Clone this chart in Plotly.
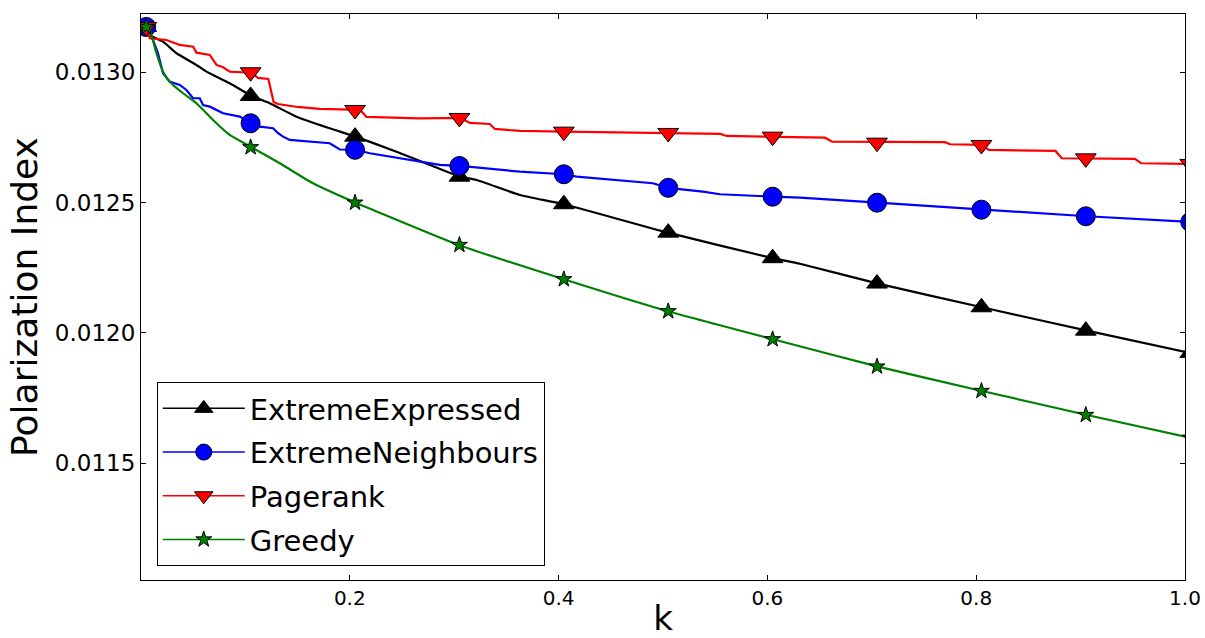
import plotly.graph_objects as go

# ---------------- data ----------------
MARK_K = [0.005, 0.105, 0.205, 0.305, 0.405, 0.505, 0.605, 0.705, 0.805, 0.905, 1.005]

EE_K = [0.005, 0.0084, 0.0211, 0.034, 0.0531, 0.0627, 0.085, 0.1058, 0.1234, 0.1489, 0.1808,
        0.2055, 0.2447, 0.2767, 0.3054, 0.3214, 0.3629, 0.405, 0.5047, 0.6053, 0.6311,
        0.7059, 0.8055, 0.9061, 1.005]
EE_P = [0.0131742, 0.0131435, 0.0131178, 0.0130733, 0.0130284, 0.0130027, 0.0129582, 0.0129094,
        0.0128814, 0.0128300, 0.0127855, 0.0127533, 0.0126957, 0.0126447, 0.0125998, 0.0125871,
        0.0125296, 0.0124940, 0.0123850, 0.0122870, 0.0122656, 0.0121896, 0.0120986, 0.0120089,
        0.0119236]
EE_M = [0.0131742, 0.0129094, 0.0127533, 0.0125998, 0.0124940, 0.0123850, 0.0122870, 0.0121896,
        0.0120986, 0.0120089, 0.0119236]

EN_K = [0.005, 0.0115, 0.0163, 0.0211, 0.0275, 0.0371, 0.0435, 0.0499, 0.0563, 0.0594, 0.0659,
        0.0723, 0.0786, 0.0946, 0.1058, 0.1138, 0.1265, 0.1313, 0.1361, 0.1425, 0.1808, 0.1904,
        0.2055, 0.2192, 0.267, 0.2863, 0.3054, 0.3629, 0.405, 0.4174, 0.4903, 0.5047, 0.5382,
        0.5545, 0.6053, 0.6311, 0.7059, 0.8055, 0.9061, 1.005]
EN_P = [0.0131742, 0.0131243, 0.0130733, 0.0129965, 0.0129643, 0.0129517, 0.0129325, 0.0129006,
        0.0129006, 0.0128749, 0.0128684, 0.0128557, 0.0128431, 0.0128300, 0.0128047, 0.0127916,
        0.0127855, 0.0127663, 0.0127533, 0.0127406, 0.0127279, 0.0127040, 0.0127030, 0.0126896,
        0.0126573, 0.0126447, 0.0126408, 0.0126190, 0.0126090, 0.0125998, 0.0125745, 0.0125570,
        0.0125422, 0.0125322, 0.0125230, 0.0125192, 0.0125000, 0.0124731, 0.0124478, 0.0124260]
EN_M = [0.0131742, 0.0128047, 0.0127030, 0.0126408, 0.0126090, 0.0125570, 0.0125230, 0.0125000,
        0.0124731, 0.0124478, 0.0124260]

PR_K = [0.005, 0.0084, 0.0244, 0.0371, 0.0499, 0.0531, 0.0659, 0.0723, 0.0786, 0.0850, 0.0962,
        0.1058, 0.112, 0.122, 0.127, 0.131, 0.150, 0.171, 0.210, 0.216, 0.267, 0.306, 0.315,
        0.334, 0.339, 0.363, 0.405, 0.490, 0.555, 0.561, 0.606, 0.655, 0.662, 0.770, 0.775,
        0.805, 0.812, 0.876, 0.882, 0.952, 0.958, 1.005]
PR_P = [0.0131742, 0.0131309, 0.0131243, 0.0131051, 0.0130986, 0.0130756, 0.0130668, 0.0130284,
        0.0130196, 0.0130027, 0.0130004, 0.0130004, 0.0129785, 0.0129747, 0.0128864, 0.0128787,
        0.0128672, 0.0128596, 0.0128557, 0.0128289, 0.0128231, 0.0128250, 0.0128058, 0.0128020,
        0.0127828, 0.0127751, 0.0127725, 0.0127686, 0.0127636, 0.0127560, 0.0127533, 0.0127494,
        0.0127341, 0.0127322, 0.0127241, 0.0127214, 0.0127022, 0.0126984, 0.0126704, 0.0126677,
        0.0126512, 0.0126485]
PR_M = [0.0131742, 0.0130004, 0.0128557, 0.0128250, 0.0127725, 0.0127675, 0.0127533, 0.0127302,
        0.0127214, 0.0126700, 0.0126485]

GR_K = [0.005, 0.0084, 0.0148, 0.0211, 0.0275, 0.0403, 0.0531, 0.069, 0.085, 0.1058, 0.1329,
        0.1648, 0.2055, 0.2223, 0.3044, 0.405, 0.5047, 0.6053, 0.7059, 0.8055, 0.9061, 1.005]
GR_P = [0.0131742, 0.0131627, 0.0130733, 0.0130027, 0.0129643, 0.0129198, 0.0128814, 0.0128174,
        0.0127598, 0.0127126, 0.0126512, 0.0125745, 0.0125000, 0.0124720, 0.0123377, 0.0122061,
        0.0120833, 0.0119759, 0.0118711, 0.0117775, 0.0116854, 0.0115980]
GR_M = [0.0131742, 0.0127126, 0.0125000, 0.0123377, 0.0122061, 0.0120833, 0.0119759, 0.0118711,
        0.0117775, 0.0116854, 0.0115980]

X_TICKS = [0.2, 0.4, 0.6, 0.8, 1.0]
Y_TICKS = [0.0115, 0.0120, 0.0125, 0.0130]

SERIES = [
    ("ExtremeExpressed", EE_K, EE_P, EE_M, "#000000", "triangle-up", 18, "spline"),
    ("ExtremeNeighbours", EN_K, EN_P, EN_M, "#0000ff", "circle", 19, "linear"),
    ("Pagerank", PR_K, PR_P, PR_M, "#ff0000", "triangle-down", 18, "linear"),
    ("Greedy", GR_K, GR_P, GR_M, "#008000", "star", 12, "spline"),
]

FONT = "DejaVu Sans"

fig = go.Figure()
for name, xs, ys, ms, color, sym, size, shape in SERIES:
    fig.add_trace(go.Scatter(x=xs, y=ys, mode="lines",
                             line=dict(color=color, width=2.2, shape=shape, smoothing=0.5),
                             showlegend=False, hoverinfo="skip"))
    fig.add_trace(go.Scatter(x=MARK_K, y=ms, mode="markers", showlegend=False,
                             marker=dict(symbol=sym, size=size, color=color,
                                         line=dict(color="black", width=1))))
    # legend proxy (no data)
    fig.add_trace(go.Scatter(x=[None], y=[None], mode="lines+markers", name=name,
                             legendgroup=name,
                             line=dict(color=color, width=1.5),
                             marker=dict(symbol=sym, size=size, color=color,
                                         line=dict(color="black", width=1))))

axis_common = dict(showgrid=False, zeroline=False, showline=True, linecolor="black",
                   linewidth=1.2, mirror="ticks", ticks="inside", ticklen=5, tickwidth=1,
                   tickcolor="black", automargin=False)

fig.update_layout(
    width=1205, height=638,
    margin=dict(l=141, r=20, t=14, b=58),
    paper_bgcolor="white", plot_bgcolor="white",
    font=dict(family=FONT, color="black"),
    xaxis=dict(range=[0, 1.0], tickvals=X_TICKS, ticktext=["0.2", "0.4", "0.6", "0.8", "1.0"],
               tickfont=dict(size=20, family=FONT),
               title=dict(text="k", font=dict(size=34, family=FONT), standoff=8),
               **axis_common),
    yaxis=dict(range=[0.0110522, 0.0132239], tickvals=Y_TICKS, tickformat=".4f",
               tickfont=dict(size=23, family=FONT),
               title=dict(text="Polarization Index", font=dict(size=36, family=FONT), standoff=6),
               **axis_common),
    legend=dict(x=0.0151, y=0.0247, xanchor="left", yanchor="bottom",
                bgcolor="white", bordercolor="black", borderwidth=1,
                font=dict(size=29, family=FONT), itemwidth=82, tracegroupgap=3,
                traceorder="grouped"),
)

fig.write_html("out.html", config={"displayModeBar": False})
